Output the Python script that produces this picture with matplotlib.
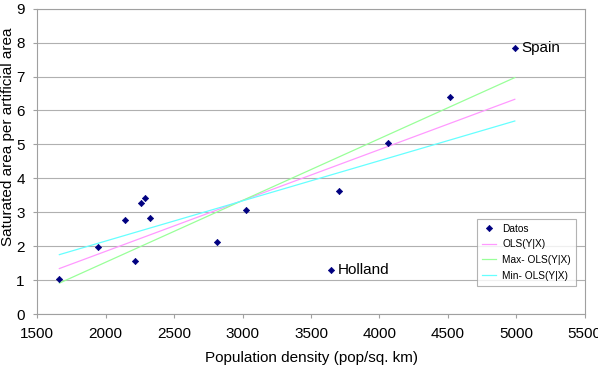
import matplotlib.pyplot as plt

plt.rcParams['font.family'] = ['Liberation Sans', 'DejaVu Sans']

# scatter data (population density vs saturated/artificial area)
density = [1661, 1946, 2138, 2211, 2255, 2289, 2324, 2816, 3028, 3644, 3708, 4061, 4514, 4989]
ratio = [1.04, 1.99, 2.77, 1.55, 3.28, 3.43, 2.83, 2.11, 3.07, 1.30, 3.64, 5.04, 6.41, 7.83]
point_names = ['', '', '', '', '', '', '', '', '', 'Holland', '', '', '', 'Spain']

# fitted lines (endpoints)
fit_x = [1661, 4989]
ols_y = [1.34, 6.33]
max_ols_y = [0.91, 6.97]
min_ols_y = [1.75, 5.69]

fig = plt.figure(figsize=(5.98, 3.68), dpi=100)
ax = fig.add_axes([0.0624, 0.1467, 0.9154, 0.8296])

navy = '#000080'
ax.plot(density, ratio, 'D', color=navy, markersize=3.2, markeredgewidth=0.5,
        label='Datos', zorder=5)
ax.plot(fit_x, ols_y, color='#ff99ff', lw=0.9, label='OLS(Y|X)')
ax.plot(fit_x, max_ols_y, color='#99ff99', lw=0.9, label='Max- OLS(Y|X)')
ax.plot(fit_x, min_ols_y, color='#66ffff', lw=0.9, label='Min- OLS(Y|X)')

for x, y, name in zip(density, ratio, point_names):
    if name:
        ax.annotate(name, (x, y), xytext=(5, 0), textcoords='offset points',
                    va='center', ha='left', fontsize=11)

ax.set_xlim(1500, 5500)
ax.set_ylim(0, 9)
ax.set_xticks(range(1500, 5501, 500))
ax.set_yticks(range(0, 10))
ax.grid(axis='y', color='#b0b0b0', lw=0.8)
ax.set_axisbelow(True)
for s in ax.spines.values():
    s.set_color('#a0a0a0')
ax.tick_params(colors='#a0a0a0', labelcolor='black', labelsize=11, length=3, pad=6)

ax.set_xlabel('Population density (pop/sq. km)', fontsize=11)
ax.xaxis.set_label_coords(0.5, -0.12)
ax.set_ylabel('Saturated area per artificial area', fontsize=11)
ax.yaxis.set_label_coords(-0.04, 0.58)

leg = ax.legend(loc='upper left', bbox_to_anchor=(0.803, 0.312), fontsize=7.3,
                frameon=True, fancybox=False, edgecolor='#a0a0a0', borderaxespad=0,
                handlelength=1.4, handletextpad=0.6, borderpad=0.5, labelspacing=0.55)
leg.get_frame().set_linewidth(0.8)

fig.savefig('out.png', dpi=100)
